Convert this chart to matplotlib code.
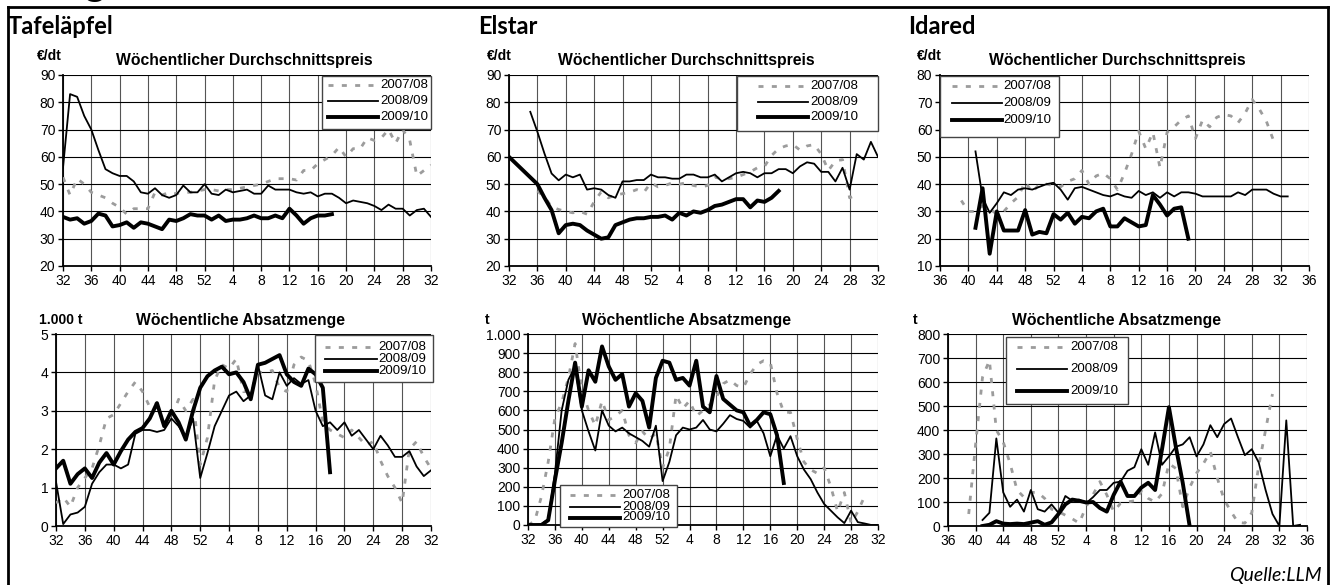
import numpy as np
import matplotlib.pyplot as plt
from matplotlib.lines import Line2D
from matplotlib.patches import Rectangle

plt.rcParams['font.family'] = ['Liberation Sans', 'DejaVu Sans']

W, H = 1331, 585

# Kalenderwochen: Werte > 52 gehoeren ins Folgejahr (53 = KW 1)
seasons = ['2007/08', '2008/09', '2009/10']

# --- Tafelaepfel, Preis (EUR/dt) ---
tafel_preis_0708_kw = 32
tafel_preis_0708 = [52.5, 46, 52, 50, 47, 46, 45, 43, 41.5, 39, 41, 41, 41, 47, 46, 47, 46.5, 47,
                    47, 47.5, 48, 48, 47.5, 48, 48, 48.5, 49, 49.5, 50, 51, 52, 52, 52, 51.5, 55,
                    55, 57.5, 59, 60.5, 63.5, 60, 63, 63, 67, 66, 67, 70, 65, 70, 66, 53, 55, 57]
tafel_preis_0809_kw = 32
tafel_preis_0809 = [56, 83, 82, 75, 70, 62.5, 55.5, 54, 53, 53, 51, 47, 46.5, 48.5, 46, 45, 46,
                    49.5, 47, 47, 50, 46.5, 46, 48, 47, 47.5, 48, 46.5, 46.5, 49.5, 48, 48, 48,
                    47, 46.5, 47, 45.5, 46.5, 46.5, 45, 43, 44, 43.5, 43, 42, 40.5, 42.5, 41, 41,
                    38.5, 40.5, 41, 38]
tafel_preis_0910_kw = 32
tafel_preis_0910 = [38, 37, 37.5, 35.5, 36.5, 39.2, 38.5, 34.5, 35, 36, 34, 36, 35.5, 34.5, 33.5,
                    37, 36.5, 37.5, 39, 38.5, 38.5, 37, 38.5, 36.5, 37, 37, 37.5, 38.5, 37.5,
                    37.5, 38.5, 37.5, 41, 38.5, 35.5, 37.5, 38.5, 38.5, 39]

# --- Elstar, Preis (EUR/dt) ---
elstar_preis_0708_kw = 36
elstar_preis_0708 = [47.5, 45.3, 41.7, 40.7, 40, 39.5, 40, 39, 43.5, 47.2, 45, 46, 46.5, 47, 48,
                     47, 50.5, 49, 49.5, 50.5, 50, 50.5, 49.5, 49, 49.5, 52.5, 52, 52, 52.5, 53.5,
                     54.5, 56, 56.5, 60.5, 63, 64, 64.5, 62.5, 64, 64.5, 61, 55, 58.5, 59, 45, 46]
elstar_preis_0809_kw = 35
elstar_preis_0809 = [76.5, 69.2, 61.2, 53.9, 51.4, 53.5, 52.5, 53.5, 48, 48.5, 48, 46, 45, 51, 51,
                     51.5, 51.5, 53.5, 52.5, 52.5, 52, 52, 53.5, 53.5, 52.5, 52.5, 53.5, 51, 52.5,
                     54, 54.5, 54, 52.5, 54, 54, 55.5, 55.5, 54, 56.5, 58, 57.5, 54.5, 54.5, 51,
                     56, 48, 61, 59, 65.5, 60]
elstar_preis_0910_kw = 32
elstar_preis_0910 = [60, 57.5, 55, 52.5, 50, 45, 40.5, 32, 35, 35.5, 35, 33, 31.5, 30, 30.5, 35,
                     36, 37, 37.5, 37.5, 38, 38, 38.5, 37, 39.5, 38.5, 40, 39.5, 40.5, 42, 42.5,
                     43.5, 44.5, 44.5, 41.5, 44, 43.5, 45, 47.5]

# --- Idared, Preis (EUR/dt) ---
idared_preis_0708_kw = 39
idared_preis_0708 = [34, 30, 30, 32, 31, 29, 30, 33, 35.3, 40.8, 37, 40, 40, 39.5, 39, 41, 42, 45,
                     40, 43, 44, 42, 38, 44, 51, 59.4, 53, 59, 46, 59, 61, 63.5, 65, 56.7, 63.5,
                     61, 64.5, 65.5, 65, 62.5, 66, 71, 67.5, 63, 56]
idared_preis_0809_kw = 41
idared_preis_0809 = [52, 35, 29.5, 33, 37, 36, 38, 38.5, 38, 39, 40, 40.5, 38, 34.3, 38.5, 39, 38,
                     37, 36, 35.5, 36.5, 35.5, 35, 37.5, 36, 37, 35, 37, 35.5, 37, 37, 36.5, 35.5,
                     35.5, 35.5, 35.5, 35.5, 37, 36, 38, 38, 38, 36.5, 35.5, 35.5]
idared_preis_0910_kw = 41
idared_preis_0910 = [24, 38.5, 14.5, 30, 23, 23, 23, 30.5, 21.5, 22.5, 22, 29, 27, 29.5, 25.5, 28,
                     27.5, 30, 31, 24.5, 24.5, 27.5, 26, 24.5, 25, 36, 32.5, 28.5, 31, 31.5, 20]

# --- Tafelaepfel, Absatz (1.000 t) ---
tafel_menge_0708_kw = 32
tafel_menge_0708 = [0.6, 0.75, 0.5, 1.0, 1.25, 1.5, 2.1, 2.8, 2.9, 3.2, 3.5, 3.75, 3.5, 3.1, 3.2,
                    2.6, 2.8, 3.3, 3.0, 3.3, 1.6, 2.3, 3.8, 4.2, 4.1, 4.35, 3.5, 3.5, 4.0, 4.0,
                    4.05, 3.6, 3.5, 4.2, 4.4, 4.3, 3.7, 2.7, 2.5, 2.4, 2.3, 2.5, 2.3, 2.1, 2.2,
                    1.7, 1.3, 1.0, 0.6, 2.0, 2.2, 1.8, 1.5]
tafel_menge_0809_kw = 32
tafel_menge_0809 = [1.15, 0.05, 0.3, 0.35, 0.5, 1.1, 1.4, 1.6, 1.6, 1.5, 1.6, 2.4, 2.5, 2.5, 2.45,
                    2.5, 2.8, 2.6, 2.3, 2.8, 1.25, 1.9, 2.6, 3.0, 3.4, 3.5, 3.25, 3.4, 4.2, 3.4,
                    3.3, 4.0, 3.65, 3.85, 3.7, 3.8, 3.0, 2.6, 2.7, 2.5, 2.7, 2.35, 2.5, 2.25, 2.0,
                    2.35, 2.1, 1.8, 1.8, 1.95, 1.55, 1.3, 1.45]
tafel_menge_0910_kw = 32
tafel_menge_0910 = [1.5, 1.7, 1.1, 1.35, 1.5, 1.25, 1.65, 1.9, 1.6, 1.95, 2.25, 2.45, 2.55, 2.8,
                    3.2, 2.6, 3.0, 2.7, 2.25, 3.0, 3.6, 3.9, 4.05, 4.15, 3.95, 4.0, 3.75, 3.3,
                    4.2, 4.25, 4.35, 4.45, 3.95, 3.75, 3.65, 4.1, 3.95, 3.6, 1.4]

# --- Elstar, Absatz (t) ---
elstar_menge_0708_kw = 32
elstar_menge_0708 = [0, 20, 150, 330, 560, 640, 770, 950, 710, 600, 520, 650, 550, 570, 600, 470,
                     430, 490, 450, 480, 300, 400, 680, 610, 650, 570, 600, 630, 670, 740, 760,
                     730, 720, 790, 840, 860, 850, 690, 590, 590, 450, 330, 290, 270, 300, 200,
                     70, 170, 10, 70, 150]
elstar_menge_0809_kw = 32
elstar_menge_0809 = [0, 0, 5, 30, 270, 600, 760, 830, 600, 490, 390, 600, 520, 490, 510, 480, 460,
                     440, 410, 520, 230, 330, 470, 510, 500, 510, 550, 500, 490, 530, 575, 555,
                     545, 510, 545, 480, 360, 470, 400, 465, 360, 290, 240, 170, 110, 75, 40, 10,
                     75, 15, 8, 0, 0]
elstar_menge_0910_kw = 32
elstar_menge_0910 = [0, 0, 0, 25, 235, 430, 650, 850, 620, 810, 750, 935, 830, 760, 790, 620, 690,
                     650, 510, 770, 860, 850, 760, 770, 730, 860, 620, 590, 780, 660, 630, 600,
                     590, 520, 550, 590, 580, 470, 220]

# --- Idared, Absatz (t) ---
idared_menge_0708_kw = 39
idared_menge_0708 = [50, 340, 620, 690, 400, 350, 260, 150, 120, 140, 140, 115, 70, 60, 45, 30, 12,
                     80, 130, 185, 130, 60, 95, 100, 105, 145, 115, 100, 135, 260, 240, 80, 160,
                     220, 260, 310, 200, 110, 60, 15, 12, 55, 250, 400, 550]
idared_menge_0809_kw = 41
idared_menge_0809 = [25, 55, 365, 140, 80, 110, 60, 150, 70, 60, 90, 55, 125, 105, 110, 95, 120,
                     150, 150, 180, 185, 230, 245, 320, 255, 390, 255, 290, 330, 340, 370, 290,
                     340, 420, 370, 425, 448, 370, 295, 320, 265, 150, 50, 0, 440, 0, 5]
idared_menge_0910_kw = 41
idared_menge_0910 = [0, 5, 20, 10, 8, 10, 8, 14, 20, 5, 15, 50, 90, 110, 105, 98, 100, 75, 60, 130,
                     185, 125, 125, 160, 180, 150, 320, 495, 330, 180, 0]

styles = {
    '2007/08': dict(color='#9c9c9c', lw=2.0, ls=(0, (1.8, 3.0)), dash_capstyle='butt'),
    '2008/09': dict(color='black', lw=1.3),
    '2009/10': dict(color='black', lw=2.8),
}


def fx(x):
    return x / W


def fy(y):
    return 1 - y / H


def week_label(w):
    return str(w if w <= 52 else w - 52)


def de_number(v):
    return '{:,}'.format(int(v)).replace(',', '.')


fig = plt.figure(figsize=(W / 100, H / 100), dpi=100)

panels = [
    dict(box=(63, 75, 431, 266), weeks=(32, 84), yt=(20, 90, 10), unit='€/dt', unit_x=37, unit_y=56,
         title='Wöchentlicher Durchschnittspreis', title_x=244, title_y=61,
         series=[(tafel_preis_0708_kw, tafel_preis_0708), (tafel_preis_0809_kw, tafel_preis_0809),
                 (tafel_preis_0910_kw, tafel_preis_0910)],
         leg=dict(box=(322, 76, 431, 129), rows=(85, 100.5, 116.5), hx=(328, 378), tx=380)),
    dict(box=(509, 75, 878, 266), weeks=(32, 84), yt=(20, 90, 10), unit='€/dt', unit_x=487, unit_y=56,
         title='Wöchentlicher Durchschnittspreis', title_x=686, title_y=61,
         series=[(elstar_preis_0708_kw, elstar_preis_0708), (elstar_preis_0809_kw, elstar_preis_0809),
                 (elstar_preis_0910_kw, elstar_preis_0910)],
         leg=dict(box=(737, 76, 878, 131), rows=(86, 101.5, 117), hx=(758, 808), tx=810)),
    dict(box=(940, 75, 1309, 266), weeks=(36, 88), yt=(10, 80, 10), unit='€/dt', unit_x=917, unit_y=56,
         title='Wöchentlicher Durchschnittspreis', title_x=1117, title_y=61,
         series=[(idared_preis_0708_kw, idared_preis_0708), (idared_preis_0809_kw, idared_preis_0809),
                 (idared_preis_0910_kw, idared_preis_0910)],
         leg=dict(box=(940, 76, 1059, 137), rows=(86, 103, 120), hx=(952, 1002), tx=1003)),
    dict(box=(56, 334, 431, 526), weeks=(32, 84), yt=(0, 5, 1), unit='1.000 t', unit_x=39, unit_y=320,
         title='Wöchentliche Absatzmenge', title_x=240, title_y=320,
         series=[(tafel_menge_0708_kw, tafel_menge_0708), (tafel_menge_0809_kw, tafel_menge_0809),
                 (tafel_menge_0910_kw, tafel_menge_0910)],
         leg=dict(box=(315, 335, 433, 382), rows=(346.5, 358.5, 371), hx=(325, 377), tx=378)),
    dict(box=(528, 334, 878, 525), weeks=(32, 84), yt=(0, 1000, 100), unit='t', unit_x=485, unit_y=320,
         title='Wöchentliche Absatzmenge', title_x=686, title_y=320,
         series=[(elstar_menge_0708_kw, elstar_menge_0708), (elstar_menge_0809_kw, elstar_menge_0809),
                 (elstar_menge_0910_kw, elstar_menge_0910)],
         leg=dict(box=(560, 485, 677, 527), rows=(495, 506.5, 517.5), hx=(570, 620), tx=622)),
    dict(box=(948, 334, 1307, 526), weeks=(36, 88), yt=(0, 800, 100), unit='t', unit_x=913, unit_y=320,
         title='Wöchentliche Absatzmenge', title_x=1117, title_y=320,
         series=[(idared_menge_0708_kw, idared_menge_0708), (idared_menge_0809_kw, idared_menge_0809),
                 (idared_menge_0910_kw, idared_menge_0910)],
         leg=dict(box=(1006, 337, 1128, 404), rows=(346.5, 368.5, 390.5), hx=(1017, 1067), tx=1070)),
]

for p in panels:
    x1, y1, x2, y2 = p['box']
    ax = fig.add_axes([fx(x1), fy(y2), (x2 - x1) / W, (y2 - y1) / H])
    for season, (kw0, vals) in zip(seasons, p['series']):
        weeks = np.arange(kw0, kw0 + len(vals))
        ax.plot(weeks, vals, zorder=3, **styles[season])

    w0, w1 = p['weeks']
    ax.set_xlim(w0, w1)
    xt = list(range(w0, w1 + 1, 4))
    ax.set_xticks(xt)
    ax.set_xticklabels([week_label(w) for w in xt])

    lo, hi, step = p['yt']
    ax.set_ylim(lo, hi)
    yt = np.arange(lo, hi + step / 2, step)
    ax.set_yticks(yt)
    ax.set_yticklabels([de_number(v) for v in yt])

    ax.set_axisbelow(True)
    ax.grid(axis='y', color='black', lw=0.8)
    ax.grid(axis='x', color='#555555', lw=0.8)
    for s in ('top', 'right'):
        ax.spines[s].set_visible(False)
    for s in ('left', 'bottom'):
        ax.spines[s].set_linewidth(1.3)
    ax.tick_params(direction='out', length=3.5, width=1, labelsize=10, pad=2)

    fig.text(fx(p['unit_x']), fy(p['unit_y']), p['unit'], fontsize=10, fontweight='bold',
             ha='left', va='center')
    fig.text(fx(p['title_x']), fy(p['title_y']), p['title'], fontsize=11.3, fontweight='bold',
             ha='center', va='center')

    lg = p['leg']
    bx1, by1, bx2, by2 = lg['box']
    fig.add_artist(Rectangle((fx(bx1), fy(by2)), (bx2 - bx1) / W, (by2 - by1) / H,
                             transform=fig.transFigure, facecolor='white', edgecolor='#444444',
                             lw=1.0, zorder=5))
    for season, ry in zip(seasons, lg['rows']):
        fig.add_artist(Line2D([fx(lg['hx'][0]), fx(lg['hx'][1])], [fy(ry), fy(ry)],
                              transform=fig.transFigure, zorder=6, **styles[season]))
        fig.text(fx(lg['tx']), fy(ry), season, fontsize=9.5, ha='left', va='center', zorder=7)

# Sortenueberschriften
for name, x in [('Tafeläpfel', 8), ('Elstar', 478), ('Idared', 908)]:
    fig.text(fx(x), fy(27), name, fontsize=17, fontweight='bold', family='Lato',
             ha='left', va='center')

# abgeschnittene Ueberschrift oben (nur die Unterlaenge ist sichtbar)
fig.text(fx(85), fy(-4), 'g', fontsize=28, fontweight='bold', family='Lato', va='baseline')

# Rahmen
frame = dict(color='black', lw=2.0, transform=fig.transFigure)
fig.add_artist(Line2D([fx(8), fx(1328)], [fy(7), fy(7)], **frame))
fig.add_artist(Line2D([fx(8), fx(8)], [fy(7), fy(590)], **frame))
fig.add_artist(Line2D([fx(1328), fx(1328)], [fy(7), fy(590)], **frame))

fig.text(fx(1322), fy(575), 'Quelle:LLM', fontsize=14, style='italic', family='Lato',
         ha='right', va='center')

fig.savefig('out.png', dpi=100)
